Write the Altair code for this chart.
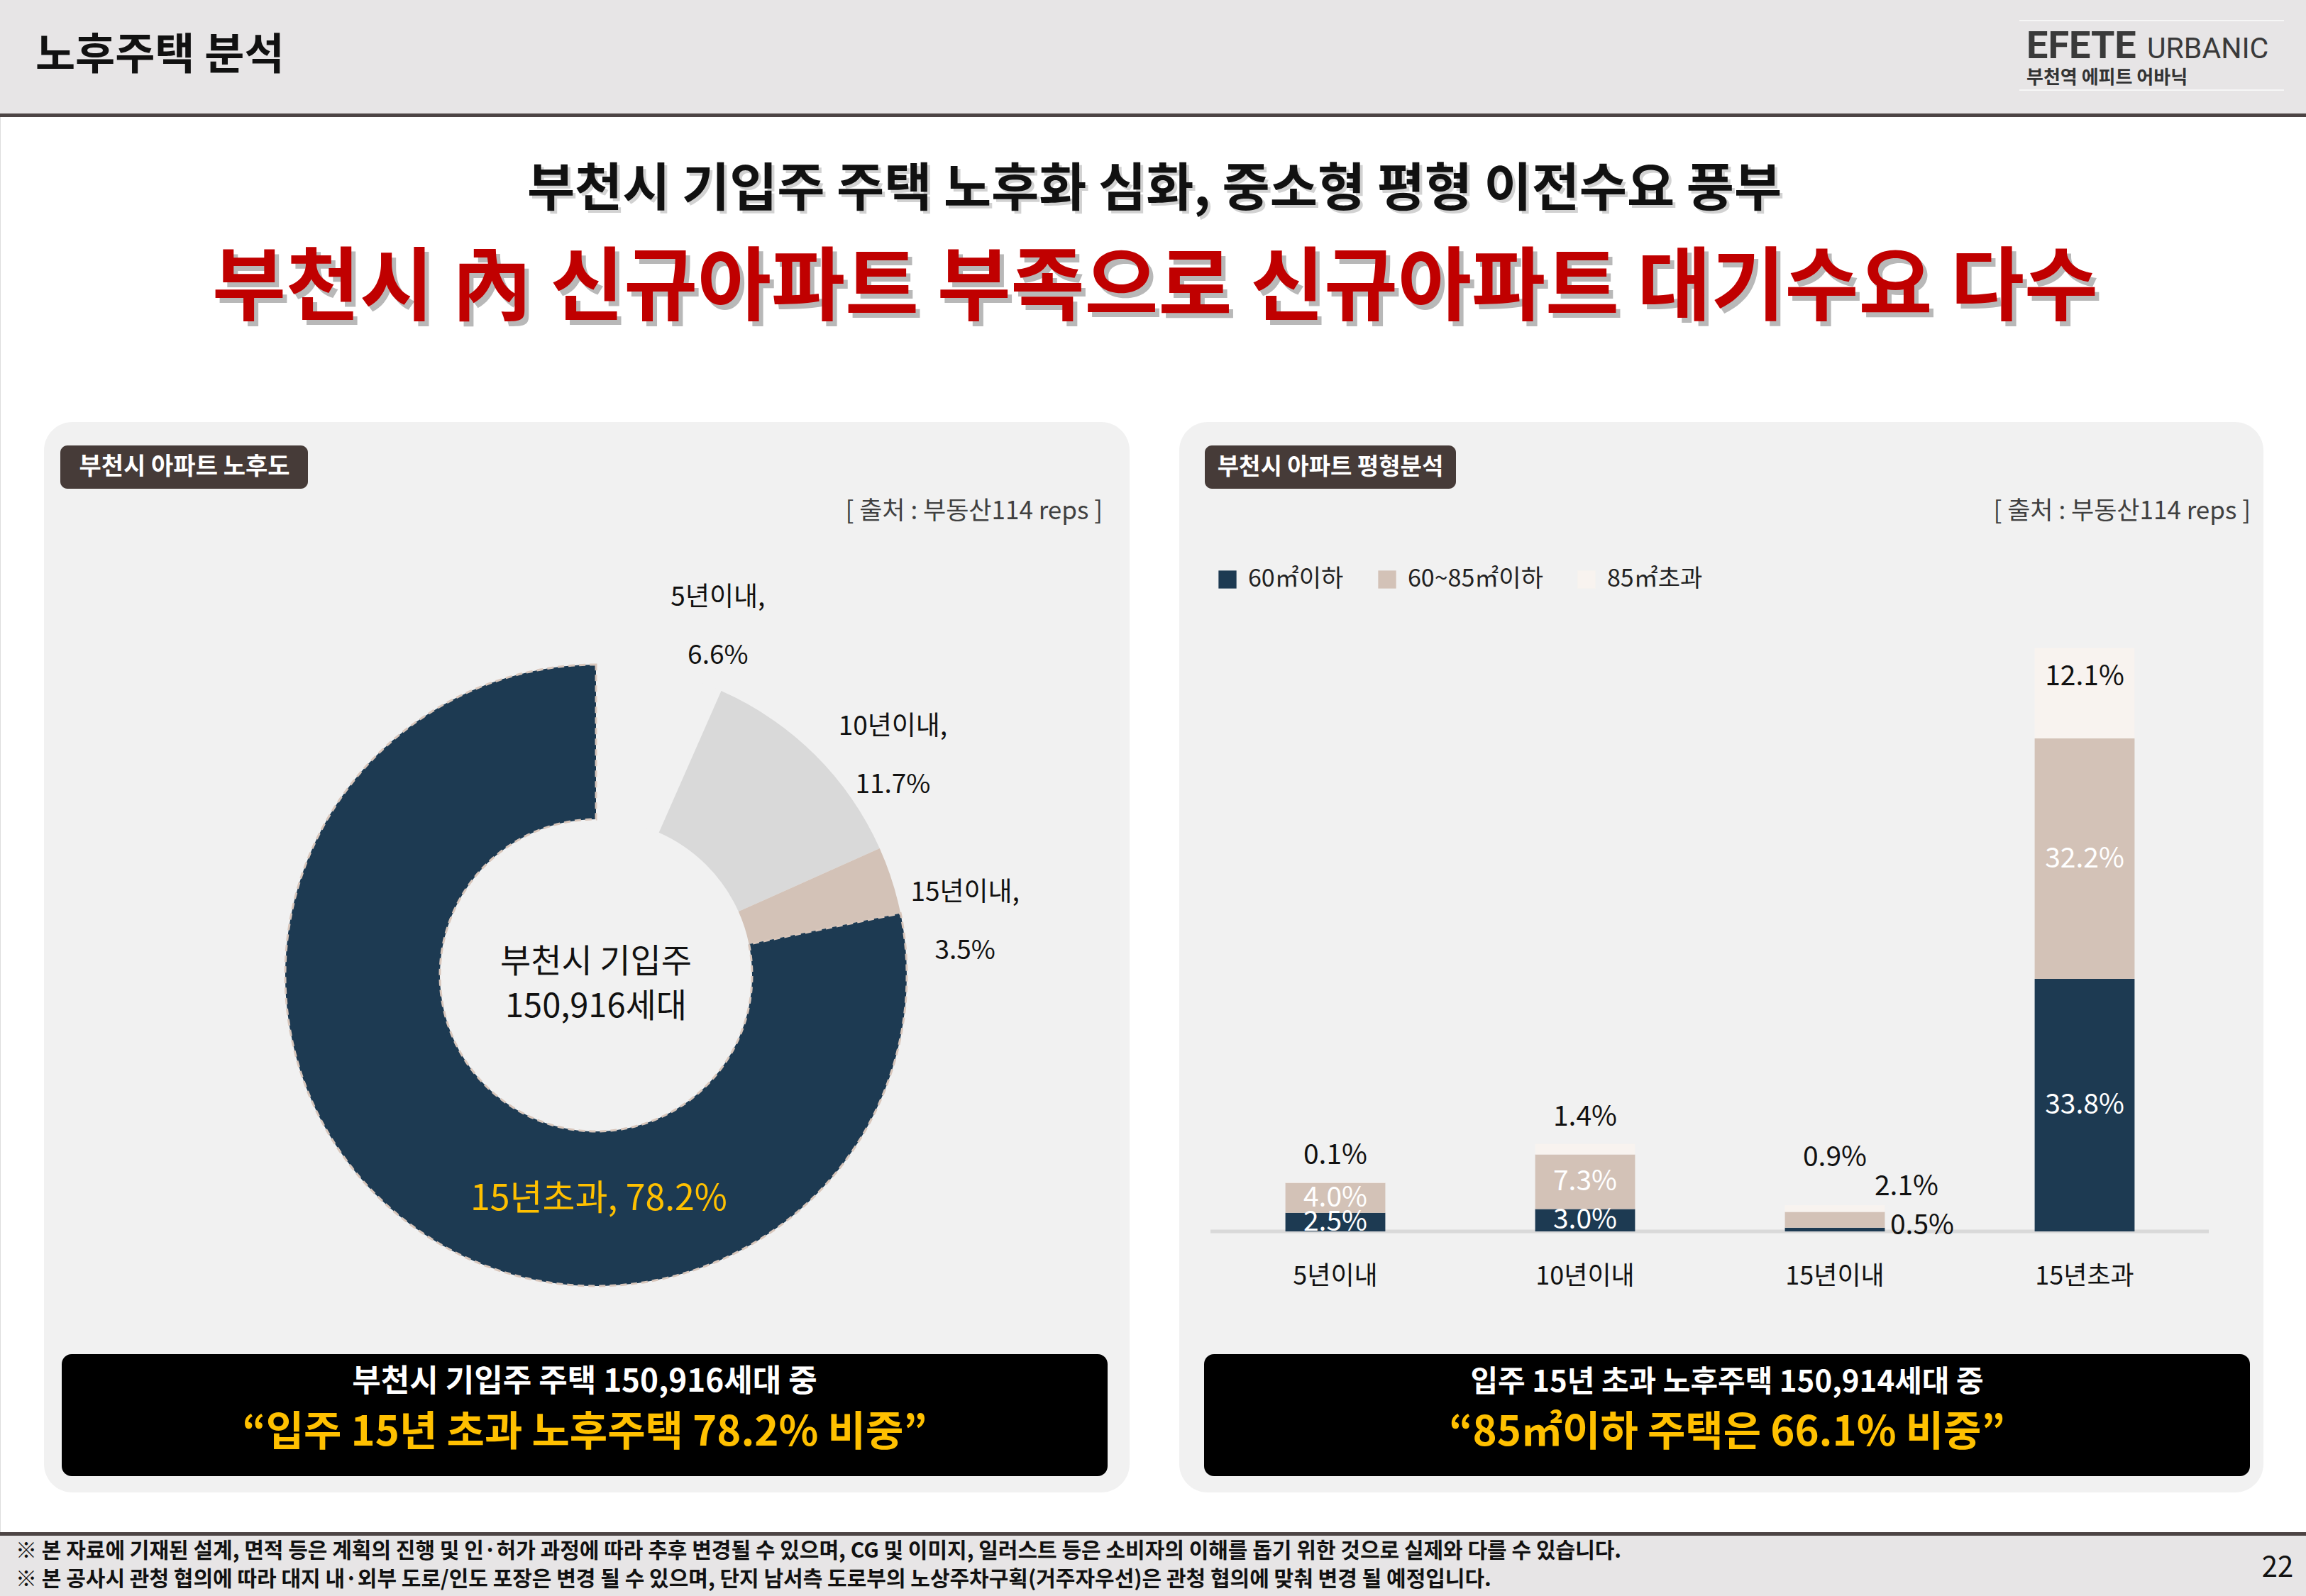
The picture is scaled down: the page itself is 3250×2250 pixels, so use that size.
import altair as alt
import pandas as pd

FONT = "Noto Sans CJK KR"

# ---------------- data ----------------
age_cats = ["5년이내", "10년이내", "15년이내", "15년초과"]
age_pcts = [6.6, 11.7, 3.5, 78.2]
age_colors = ["#f1f1f1", "#d9d9d9", "#d3c2b7", "#1d3a52"]

bar_cats = ["5년이내", "10년이내", "15년이내", "15년초과"]
size_groups = ["60㎡이하", "60~85㎡이하", "85㎡초과"]
size_colors = ["#1d3a52", "#d3c2b7", "#f8f3ef"]
small_vals = [2.5, 3.0, 0.5, 33.8]
mid_vals = [4.0, 7.3, 2.1, 32.2]
large_vals = [0.1, 1.4, 0.9, 12.1]

page_title = "노후주택 분석"
subtitle = "부천시 기입주 주택 노후화 심화, 중소형 평형 이전수요 풍부"
headline = "부천시 內 신규아파트 부족으로 신규아파트 대기수요 다수"
left_tag = "부천시 아파트 노후도"
right_tag = "부천시 아파트 평형분석"
source_text = "[ 출처 : 부동산114 reps ]"
donut_center = ["부천시 기입주", "150,916세대"]
left_box = ["부천시 기입주 주택 150,916세대 중", "“입주 15년 초과 노후주택 78.2% 비중”"]
right_box = ["입주 15년 초과 노후주택 150,914세대 중", "“85㎡이하 주택은 66.1% 비중”"]
footer_lines = [
    "※ 본 자료에 기재된 설계, 면적 등은 계획의 진행 및 인·허가 과정에 따라 추후 변경될 수 있으며, CG 및 이미지, 일러스트 등은 소비자의 이해를 돕기 위한 것으로 실제와 다를 수 있습니다.",
    "※ 본 공사시 관청 협의에 따라 대지  내·외부 도로/인도 포장은 변경 될 수 있으며, 단지 남서측 도로부의 노상주차구획(거주자우선)은 관청 협의에 맞춰 변경 될 예정입니다.",
]
page_no = "22"

donut_df = pd.DataFrame({"cat": age_cats, "pct": age_pcts, "idx": list(range(len(age_cats)))})

rows = []
for gi, (g, vals) in enumerate(zip(size_groups, [small_vals, mid_vals, large_vals])):
    for c, v in zip(bar_cats, vals):
        rows.append({"cat": c, "grp": g, "gi": gi, "val": v})
bar_df = pd.DataFrame(rows)
cat_df = pd.DataFrame({"cat": bar_cats})
dummy = pd.DataFrame({"k": [0]})

# ---------------- helpers ----------------
def rect(x, x2, y, y2, color, r=0):
    return alt.Chart(dummy).mark_rect(color=color, cornerRadius=r).encode(
        x=alt.value(x), x2=alt.value(x2), y=alt.value(y), y2=alt.value(y2))

def txt(t, x, y, size, color="#111111", weight="normal", align="center", baseline="middle", **kw):
    return alt.Chart(dummy).mark_text(text=t, fontSize=size, color=color, fontWeight=weight,
                                      align=align, baseline=baseline, font=FONT, **kw).encode(
        x=alt.value(x), y=alt.value(y))

layers = []
# header / footer
layers += [rect(0, 3250, 0, 160, "#e7e5e6"), rect(0, 3250, 160, 165, "#4c4444"),
           rect(0, 3250, 2160, 2165, "#4c4444"), rect(0, 3250, 2165, 2250, "#e7e5e6"),
           rect(2846, 3219, 28, 30, "#f6f6f6"), rect(2846, 3219, 126, 128, "#f6f6f6")]
layers += [txt(page_title, 50, 80, 61, weight="bold", align="left"),
           alt.Chart(dummy).mark_text(text="EFETE", fontSize=54, fontWeight="bold", color="#3a3a3a",
                                      align="left", baseline="alphabetic", font="Roboto").encode(
               x=alt.value(2856), y=alt.value(82)),
           alt.Chart(dummy).mark_text(text="URBANIC", fontSize=41, color="#3a3a3a",
                                      align="left", baseline="alphabetic", font="Roboto").encode(
               x=alt.value(3026), y=alt.value(82)),
           txt("부천역 에피트 어바닉", 2856, 110, 26, color="#333333", weight="bold", align="left")]
# titles with shadow
layers += [txt(subtitle, 1631, 272, 73, color="#d2d2d2", weight="bold"),
           txt(subtitle, 1627, 268, 73, color="#111111", weight="bold"),
           txt(headline, 1634, 415, 113, color="#b8b8b8", weight="bold"),
           txt(headline, 1628, 408, 113, color="#c00000", weight="bold")]
# panels
layers += [rect(62, 1592, 595, 2104, "#f1f1f1", 40), rect(1662, 3190, 595, 2104, "#f1f1f1", 40),
           rect(85, 434, 628, 689, "#463b38", 10), rect(1698, 2052, 628, 689, "#463b38", 10),
           rect(87, 1561, 1909, 2081, "#000000", 14), rect(1697, 3171, 1909, 2081, "#000000", 14)]
layers += [txt(left_tag, 260, 659, 34, color="white", weight="bold"),
           txt(right_tag, 1875, 659, 33, color="white", weight="bold"),
           txt(source_text, 1554, 721, 35, color="#404040", align="right"),
           txt(source_text, 3172, 721, 35, color="#404040", align="right"),
           txt(left_box[0], 824, 1949, 44, color="white", weight="bold"),
           txt(left_box[1], 824, 2021, 58, color="#ffc000", weight="bold"),
           txt(right_box[0], 2434, 1949, 42, color="white", weight="bold"),
           txt(right_box[1], 2434, 2021, 58, color="#ffc000", weight="bold"),
           txt(footer_lines[0], 22, 2187, 30, weight="bold", align="left"),
           txt(footer_lines[1], 22, 2227, 30, weight="bold", align="left"),
           txt(page_no, 3210, 2211, 40, align="center")]

# ---------------- donut ----------------
donut_base = alt.Chart(donut_df).encode(
    theta=alt.Theta("pct:Q", stack=True),
    order=alt.Order("idx:Q"),
)
arcs = donut_base.mark_arc(radius=438, innerRadius=220, strokeDash=[9, 6], strokeWidth=3).encode(
    x=alt.value(840), y=alt.value(1375),
    color=alt.Color("cat:N", scale=alt.Scale(domain=age_cats, range=age_colors), legend=None),
    stroke=alt.condition(alt.datum.cat == "15년초과", alt.value("#d8c6bb"), alt.value("transparent")),
)
outer_labels = donut_base.transform_calculate(
    lab="datum.cat == '15년초과' ? '' : datum.cat + ',|' + format(datum.pct, '.1f') + '%'"
).mark_text(radius=540, thetaOffset=0.14, lineBreak="|", lineHeight=82, fontSize=37,
            font=FONT, color="#111111", baseline="middle", dy=-24, dx=-12).encode(
    x=alt.value(840), y=alt.value(1375), text="lab:N")
big_label = alt.Chart(donut_df).transform_filter(alt.datum.cat == "15년초과").transform_calculate(
    lab="datum.cat + ', ' + format(datum.pct, '.1f') + '%'"
).mark_text(fontSize=50, font=FONT, color="#ffc000", baseline="middle").encode(
    x=alt.value(844), y=alt.value(1691), text="lab:N")
center_labels = [txt(donut_center[0], 840, 1357, 47), txt(donut_center[1], 840, 1420, 47)]
layers += [arcs, outer_labels, big_label] + center_labels

# ---------------- stacked bars ----------------
xs = alt.Scale(domain=bar_cats, range=[1706, 3114], paddingInner=0.6, paddingOuter=0.3)
ys = alt.Scale(domain=[0, 80], range=[1736, 893.6], nice=False, zero=True)

bar_base = alt.Chart(bar_df).transform_window(
    cum="sum(val)", groupby=["cat"], sort=[alt.SortField("gi")], frame=[None, 0]
).transform_calculate(
    start="datum.cum - datum.val", mid="datum.cum - datum.val / 2",
    lab="format(datum.val, '.1f') + '%'"
)

baseline = alt.Chart(dummy).mark_rule(color="#d9d9d9", strokeWidth=5).encode(
    x=alt.value(1706), x2=alt.value(3113), y=alt.Y(datum=0, scale=ys, axis=None))

bars = bar_base.mark_bar().encode(
    x=alt.X("cat:N", scale=xs, axis=None),
    y=alt.Y("start:Q", scale=ys, axis=None),
    y2="cum:Q",
    color=alt.Color("grp:N", scale=alt.Scale(domain=size_groups, range=size_colors),
                    legend=alt.Legend(orient="none", legendX=1713, legendY=800, direction="horizontal",
                                      title=None, symbolType="square", symbolSize=640,
                                      symbolStrokeWidth=0, symbolOpacity=1, labelFontSize=34,
                                      labelFont=FONT, labelColor="#222222", labelOffset=12,
                                      columnPadding=44, labelLimit=500)),
)

def bar_text(flt, ych, color, dx=0, dy=0):
    return bar_base.transform_filter(flt).mark_text(
        fontSize=39, font=FONT, color=color, dx=dx, dy=dy, baseline="middle").encode(
        x=alt.X("cat:N", scale=xs, axis=None),
        y=alt.Y(ych, scale=ys, axis=None),
        text="lab:N")

layers += [baseline, bars,
           bar_text("datum.gi < 2 && datum.cat != '15년이내'", "mid:Q", "white"),
           bar_text("datum.gi == 0 && datum.cat == '15년이내'", "mid:Q", "#111111", dx=123, dy=-5),
           bar_text("datum.gi == 1 && datum.cat == '15년이내'", "mid:Q", "#111111", dx=101, dy=-47),
           bar_text("datum.gi == 2 && (datum.cat == '5년이내' || datum.cat == '10년이내')", "cum:Q", "#111111", dy=-38),
           bar_text("datum.gi == 2 && datum.cat == '15년이내'", "cum:Q", "#111111", dy=-67),
           bar_text("datum.gi == 2 && datum.cat == '15년초과'", "cum:Q", "#111111", dy=40),
           alt.Chart(cat_df).mark_text(fontSize=36, font=FONT, color="#111111", baseline="middle").encode(
               x=alt.X("cat:N", scale=xs, axis=None), y=alt.value(1800), text="cat:N")]

chart = alt.layer(*layers).resolve_scale(color="independent").properties(
    width=3250, height=2250, autosize=alt.AutoSizeParams(type="none"), padding=0,
    background="white",
).configure_view(strokeWidth=0).configure(font=FONT)

chart.save("out.html", embed_options={"renderer": "svg", "actions": False})
